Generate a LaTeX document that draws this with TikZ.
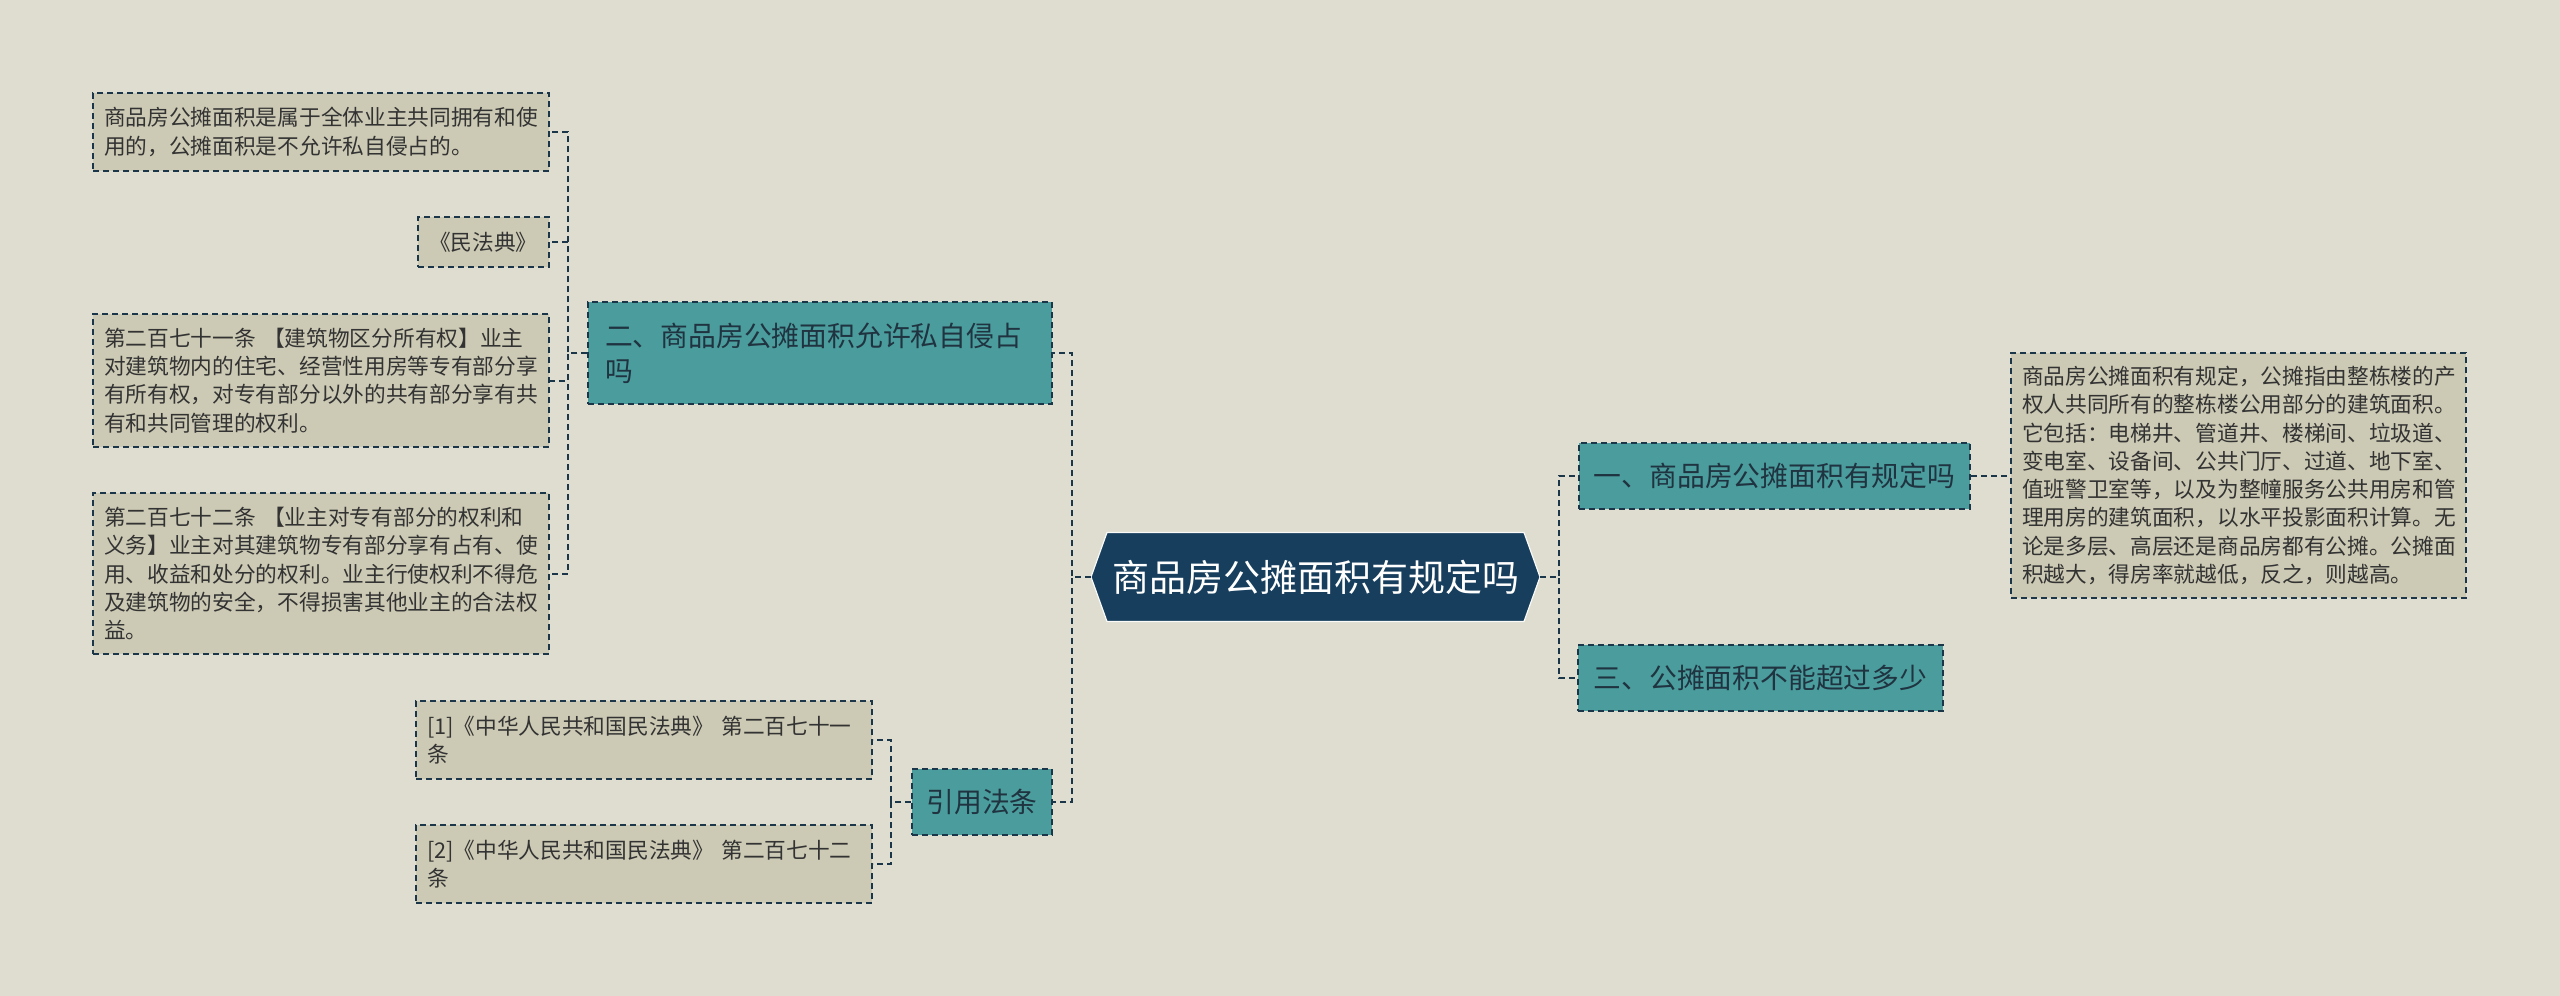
\documentclass[tikz,border=0pt]{standalone}
\usepackage{fontspec}
\setmainfont{Noto Sans CJK SC}
\definecolor{bgc}{HTML}{DEDDCF}
\definecolor{leaffill}{HTML}{CCCAB4}
\definecolor{tealfill}{HTML}{4B9C9D}
\definecolor{rootfill}{HTML}{173E5D}
\definecolor{bordc}{HTML}{1B3549}
\definecolor{leaftext}{HTML}{333333}
\definecolor{tealtext}{HTML}{1F3340}
\begin{document}
\begin{tikzpicture}[x=1pt,y=-1pt,
  dsh/.style={draw=bordc, line width=2pt, dash pattern=on 6pt off 4pt},
  leaf/.style={dsh, fill=leaffill, text=leaftext, font=\fontsize{21.7}{28.3}\selectfont, align=left, inner xsep=11pt, inner ysep=0pt, anchor=center},
  tealbox/.style={dsh, fill=tealfill, text=tealtext, font=\fontsize{27.8}{35}\selectfont, inner ysep=0pt, anchor=center},
  conn/.style={dsh}
]
\useasboundingbox[fill=bgc] (0,0) rectangle (2560,996);

% root
\coordinate (rc) at (1315.5,577);
\fill[rootfill, draw=white!85!bgc, line width=1.2pt] ([xshift=-224.5pt]rc) -- ([shift={(-208.5,-44.5)}]rc) -- ([shift={(208.5,-44.5)}]rc) -- ([xshift=224.5pt]rc) -- ([shift={(208.5,44.5)}]rc) -- ([shift={(-208.5,44.5)}]rc) -- cycle;
\node[font=\fontsize{37}{44}\selectfont, text=white, minimum width=449pt, minimum height=89pt, inner sep=0pt] (root) at (rc) {商品房公摊面积有规定吗};

% level 1
\node[tealbox, align=left, text width=430pt, inner xsep=17pt, minimum height=102pt] (er) at (820,353) {二、商品房公摊面积允许私自侵占\\吗};
\node[tealbox, inner xsep=13pt, minimum width=391pt, minimum height=66pt] (one) at (1774.5,476) {一、商品房公摊面积有规定吗};
\node[tealbox, inner xsep=15pt, minimum width=365pt, minimum height=66pt] (three) at (1760.5,678) {三、公摊面积不能超过多少};
\node[tealbox, inner xsep=14pt, minimum width=140pt, minimum height=66pt] (yy) at (982,802) {引用法条};

% leaves
\node[leaf, text width=434pt, minimum height=78pt] (l1) at (321,132) {商品房公摊面积是属于全体业主共同拥有和使\\用的，公摊面积是不允许私自侵占的。};
\node[leaf, text width=109pt, minimum height=50pt] (l2) at (483.5,242) {《民法典》};
\node[leaf, text width=434pt, minimum height=133pt] (l3) at (321,380.5) {第二百七十一条 【建筑物区分所有权】业主\\对建筑物内的住宅、经营性用房等专有部分享\\有所有权，对专有部分以外的共有部分享有共\\有和共同管理的权利。};
\node[leaf, text width=434pt, minimum height=161pt] (l4) at (321,573.5) {第二百七十二条 【业主对专有部分的权利和\\义务】业主对其建筑物专有部分享有占有、使\\用、收益和处分的权利。业主行使权利不得危\\及建筑物的安全，不得损害其他业主的合法权\\益。};
\node[leaf, text width=434pt, minimum height=78pt] (c1) at (644,740) {[1]《中华人民共和国民法典》 第二百七十一\\条};
\node[leaf, text width=434pt, minimum height=78pt] (c2) at (644,864) {[2]《中华人民共和国民法典》 第二百七十二\\条};
\node[leaf, text width=433pt, minimum height=245pt] (r1) at (2238.5,475.5) {商品房公摊面积有规定，公摊指由整栋楼的产\\权人共同所有的整栋楼公用部分的建筑面积。\\它包括：电梯井、管道井、楼梯间、垃圾道、\\变电室、设备间、公共门厅、过道、地下室、\\值班警卫室等，以及为整幢服务公共用房和管\\理用房的建筑面积，以水平投影面积计算。无\\论是多层、高层还是商品房都有公摊。公摊面\\积越大，得房率就越低，反之，则越高。};

% connectors
\draw[conn] (root.west) -- ++(-19,0) |- (er.east);
\draw[conn] (root.west) -- ++(-19,0) |- (yy.east);
\draw[conn] (root.east) -- ++(19,0) |- (one.west);
\draw[conn] (root.east) -- ++(19,0) |- (three.west);
\draw[conn] (er.west) -- ++(-19,0) |- (l1.east);
\draw[conn] (er.west) -- ++(-19,0) |- (l2.east);
\draw[conn] (er.west) -- ++(-19,0) |- (l3.east);
\draw[conn] (er.west) -- ++(-19,0) |- (l4.east);
\draw[conn] (yy.west) -- ++(-20,0) |- (c1.east);
\draw[conn] (yy.west) -- ++(-20,0) |- (c2.east);
\draw[conn] (one.east) -- (r1.west |- one.east);
\end{tikzpicture}
\end{document}
